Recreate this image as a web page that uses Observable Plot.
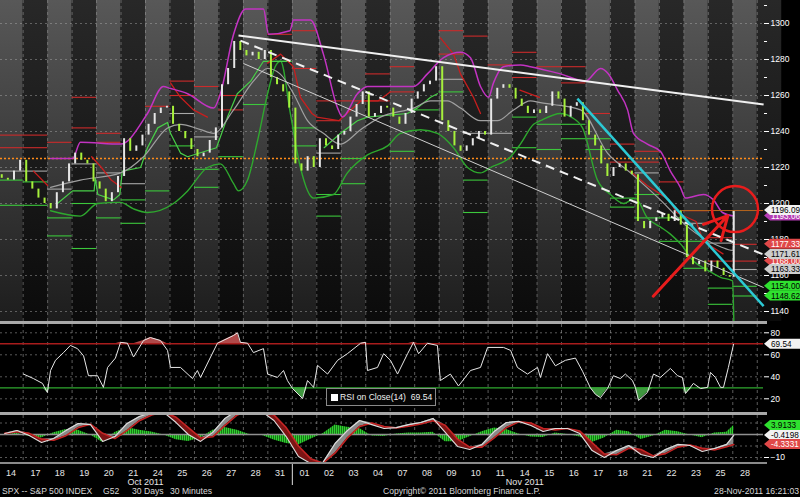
<!DOCTYPE html>
<html><head><meta charset="utf-8">
<script src="https://cdn.jsdelivr.net/npm/d3@7"></script>
<script src="https://cdn.jsdelivr.net/npm/@observablehq/plot@0.6"></script>
<style>
body{margin:0;background:#000;}
#wrap{position:relative;width:800px;height:497px;background:#000;overflow:hidden;font-family:"Liberation Sans",Arial,sans-serif;}
.panel{position:absolute;left:0;}
.sep{position:absolute;left:0;width:767px;background:#a8a8a8;}
.foot{position:absolute;top:486px;font-size:8.6px;color:#d8d8d8;white-space:pre;line-height:11px;}
#legend{position:absolute;left:326px;top:388px;width:108px;height:16px;border:1px solid #8a8a8a;background:#050505;color:#f0f0f0;font-size:8.6px;line-height:16px;white-space:nowrap;}
#legend span.sq{position:absolute;left:4px;top:5px;width:7px;height:7px;background:#fff;}
#legend span.tx{position:absolute;left:13px;top:0;}
</style></head>
<body><div id="wrap">
<div id="main" class="panel" style="top:0"></div>
<div class="sep" style="top:321px;height:3px"></div>
<div id="rsi" class="panel" style="top:324px"></div>
<div class="sep" style="top:412px;height:3px"></div>
<div id="macd" class="panel" style="top:415px"></div>
<div class="sep" style="top:462px;height:2px;background:#8a8a8a"></div>
<div id="xax" class="panel" style="top:464px"></div>
<div id="legend"><span class="sq"></span><span class="tx">RSI on Close(14)&nbsp; 69.54</span></div>
<div class="foot" style="left:2px">SPX -- S&amp;P 500 INDEX</div>
<div class="foot" style="left:103px">G52</div>
<div class="foot" style="left:132px">30 Days</div>
<div class="foot" style="left:170px">30 Minutes</div>
<div class="foot" style="left:383px">Copyright© 2011 Bloomberg Finance L.P.</div>
<div class="foot" style="right:1px">28-Nov-2011 16:21:03</div>
</div>
<script>
// ---------- data (x = trading-day index, fractional) ----------
const dayLabels = ["14","17","18","19","20","21","24","25","26","27","28","31","01","02","03","04","07","08","09","10","11","14","15","16","17","18","21","22","23","25","28"];
const monthLabels = [{t: 6.0, label: "Oct 2011"}, {t: 21.5, label: "Nov 2011"}];
const monthBreaks = [12];
const priceTicks = [1140,1160,1180,1200,1220,1240,1260,1280,1300];
const priceMinorTicks = [1140,1150,1160,1170,1180,1190,1200,1210,1220,1230,1240,1250,1260,1270,1280,1290,1300,1310];
const rsiTicks = [20,40,60,80];

const openPrice = 1216;
const closesByDay = [
 [1214,1213,1218,1224],[1212,1208,1203,1200],[1197,1206,1212,1222],[1228,1224,1222,1212],
 [1208,1201,1206,1215],[1236,1229,1232,1238],[1244,1250,1253,1254],[1244,1240,1236,1230],
 [1226,1228,1235,1242],[1266,1275,1290,1285],[1282,1284,1280,1285],[1270,1266,1262,1253],
 [1222,1218,1226,1220],[1236,1232,1230,1238],[1240,1248,1255,1262],[1248,1250,1254,1253],
 [1248,1244,1250,1258],[1262,1266,1268,1276],[1246,1240,1232,1229],[1232,1236,1240,1238],
 [1258,1264,1266,1264],[1258,1254,1250,1252],[1250,1254,1262,1258],[1248,1254,1256,1246],
 [1238,1232,1222,1215],[1220,1222,1218,1216],[1190,1186,1190,1192],[1194,1190,1196,1188],
 [1170,1166,1168,1162],[1168,1164,1160,1159],[1196.09]
];

// daily pivot levels (one per day)
const pivR2 = [1238,1238,1234,1259,1239,null,1254,1268,1265,1260,null,1294,1296,1257,null,1272,1276,null,1296,1293,1277,1284,1276,1276,null,1233,1229,1212,1196,1181,1177.33];
const pivR1 = [1231,1231,null,1242,1234,null,null,1260,null,1252,null,null,1275,1246,1257,1257,1262,null,1283,null,null,1270,null,1267,1250,1223,1223,null,null,1168,1168];
const pivP  = [1218,1218,1208,1222,1217,1211,null,1250,1237,null,null,null,null,1228,null,null,null,null,1269,1239,1239,null,null,null,null,null,1217,null,1189,1178,1163.33];
const pivS1 = [1213,1212,1192,1200,1192,1202,1207,1232,1219,1226,1255,1279,1242,1205,1225,null,1229,1252,1262,1213,null,1248,1244,1244,1236,1203,1205,1192,1179,1153,1154];
const pivS2 = [1199,1199,1182,1175,null,1189,null,null,1209,null,null,null,1232,1193,1211,null,null,null,null,1195,null,1231,1230,1236,1230,1198,1192,1179,1164,1144,1148.62];

const upperBand = [[2.12,1225],[3.02,1225],[3.34,1234],[4.98,1233],[6.08,1250],[6.73,1265],[7.0,1264],[7.72,1261],[8.78,1253],[9.06,1261],[9.6,1294],[10.09,1308],[10.82,1308],[11.03,1294],[11.9,1296],[12.05,1302],[12.74,1302],[13.27,1283],[13.85,1253],[14.05,1248],[14.66,1261],[15.07,1265],[16.95,1265],[17.52,1272],[17.93,1278],[18.18,1281],[18.87,1284],[19.28,1281],[19.69,1265],[20.02,1259],[20.22,1267],[20.63,1276],[21.32,1277],[21.73,1276],[22.96,1272],[23.98,1268],[24.59,1275],[24.92,1272],[25.29,1263],[25.7,1252],[25.94,1239],[26.51,1233],[27.04,1229],[27.45,1218],[27.86,1209],[28.07,1203],[28.8,1205],[29.21,1202],[29.58,1195],[30.04,1193]];
const lowerBand = [[2.12,1196],[3.34,1193],[4.04,1200],[4.98,1200.6],[5.51,1197],[6.08,1195],[7.14,1200],[7.72,1207],[8.53,1220],[9.06,1222],[9.6,1211],[9.8,1207],[10.17,1213],[10.58,1235],[10.99,1261],[11.3,1276],[11.52,1279],[11.92,1250],[12.33,1220],[12.87,1203],[13.68,1205],[14.25,1217],[15.07,1227],[15.89,1232],[16.42,1239],[17.24,1241],[17.93,1239],[18.59,1231],[19.16,1220],[19.69,1217],[20.1,1220],[20.92,1226],[21.32,1233],[21.86,1244],[22.14,1246],[22.96,1250],[23.4,1248],[23.86,1242],[24.47,1213],[25.0,1205],[25.53,1200],[26.02,1203],[26.51,1192],[27.04,1187],[27.45,1183],[27.9,1177],[28.39,1168],[28.97,1163],[29.5,1159],[29.99,1157],[30.05,1130]];
const midAverage = [[2.12,1209],[3.34,1213],[4.98,1217],[5.92,1226],[6.9,1242],[7.43,1244],[8.25,1241],[8.78,1239],[9.6,1252],[10.41,1268],[10.99,1275],[11.5,1272],[12.05,1261],[12.62,1246],[13.27,1239],[13.97,1233],[14.79,1241],[15.6,1248],[16.95,1253],[17.65,1257],[18.34,1257],[18.87,1253],[19.69,1246],[20.38,1246],[21.04,1252],[21.73,1257],[22.14,1256],[22.68,1255],[23.78,1252],[24.88,1228],[25.82,1217],[27.04,1202],[28.15,1187],[29.5,1176],[29.99,1174],[30.05,1176]];
const redChannel = [[1.42,1218],[2.0,1210],null,[3.8,1226],[4.2,1220],[4.6,1213],[5.0,1209],null,[7.02,1267],[7.43,1259],[7.96,1252],[8.53,1248],null,[10.99,1278],[11.52,1283],[12.05,1276],[12.33,1259],[12.8,1250],[13.0,1248],[13.9,1246],[14.8,1257],[15.5,1257],[16.0,1262],null,[18.05,1292],[18.59,1283],[18.87,1272],[19.4,1259],[19.69,1250],null,[21.3,1263],[22.1,1259],null,[25.8,1218],[26.5,1210],[27.4,1202],[27.7,1195],[28.5,1190],[28.8,1179],[29.6,1172]];
const greenChannel = [[2.4,1200],[3.02,1207],[3.9,1207],[3.95,1214],[4.05,1205],[4.7,1202],[4.95,1205],[5.05,1218],[5.8,1220],[6.08,1231],[6.5,1242],[6.9,1245],[7.02,1239],[7.43,1228],[7.72,1226],[8.9,1231],[9.35,1248],[9.75,1261],[10.3,1268],[10.82,1279],[11.9,1279],null,[13.3,1231],[13.97,1239],[14.66,1246],[15.07,1248],[16.7,1250],[17.1,1253],[17.65,1259],[17.93,1261]];
const refLine = [1225];
const lastPriceLine = [{t1: 27.9, t2: 31.26, v: 1196.09}];

const trendSolid = [{t1: 9.8, p1: 1293.3, t2: 31.26, p2: 1255}];
const trendDashed = [{t1: 9.88, p1: 1290.5, t2: 31.26, p2: 1171.6}];
const trendThin = [{t1: 10.0, p1: 1277.8, t2: 31.26, p2: 1153.3}];
const trendCyan = [{t1: 23.65, p1: 1258.3, t2: 31.26, p2: 1143}];
const arrowNote = [{t1: 26.75, p1: 1148.5, t2: 29.8, p2: 1193.3}];
const circleNote = [{t: 30.09, p: 1196.9}];

const priceTags = [
 {v: 1193.06, bg: "#b43cb4", fg: "#fff"},
 {v: 1196.09, bg: "#f2f2f2", fg: "#000"},
 {v: 1177.33, bg: "#e04848", fg: "#fff"},
 {v: 1168.00, bg: "#e04848", fg: "#fff"},
 {v: 1171.61, bg: "#cdcdcd", fg: "#000"},
 {v: 1163.33, bg: "#cdcdcd", fg: "#000"},
 {v: 1154.00, bg: "#2fe02f", fg: "#000"},
 {v: 1148.62, bg: "#2fe02f", fg: "#000"}
];

const rsiSeries = [[1.01,42.5],[1.42,38.4],[1.79,34],[1.99,25.7],[2.12,45.7],[2.32,55],[2.65,62],[2.93,68.5],[3.22,65.6],[3.47,59],[3.67,41],[4.04,41],[4.28,30.4],[4.45,48.5],[4.77,57],[4.98,71.3],[5.26,70.5],[5.51,58],[5.92,73],[6.2,75.7],[6.61,73],[6.9,64],[7.02,48.5],[7.43,48.5],[7.92,38.4],[8.12,45.7],[8.25,39.4],[8.66,58],[8.94,70.5],[9.6,77.6],[9.76,80],[9.88,71.3],[10.17,70.5],[10.41,62],[10.82,65.6],[10.99,42.5],[11.39,39.4],[11.64,45.7],[11.8,36.6],[12.01,29.3],[12.42,20.2],[12.62,36.6],[12.87,30.4],[13.03,50.4],[13.44,42.5],[13.85,55],[14.25,61],[14.79,70.5],[14.99,71.3],[15.07,45.7],[15.48,48.5],[15.73,61],[16.01,55],[16.3,42.5],[16.71,61],[16.95,71.3],[17.16,61],[17.52,70.5],[17.93,68.5],[18.05,36.6],[18.46,42.5],[18.79,31.6],[19.28,45.7],[19.69,48.5],[19.98,66.7],[20.63,66.7],[20.92,64],[21.2,48.5],[21.61,42.5],[22.02,48.5],[22.14,39.4],[22.43,61],[22.75,50],[23.16,55],[23.57,57],[23.86,45],[24.18,30],[24.39,24],[24.59,21],[24.88,29.3],[25.12,41],[25.41,38.4],[25.61,42.5],[25.9,36.6],[26.02,30.4],[26.15,18.5],[26.51,25.7],[26.76,42.5],[27.04,39.4],[27.45,47.6],[27.74,41],[27.94,39.4],[28.07,24.8],[28.39,34],[28.68,29.3],[28.97,30.4],[29.09,44],[29.29,39.4],[29.5,30.4],[29.62,30.4],[29.82,48.5],[30.03,69.54]];
const rsiLevels = {over: 70, under: 30};

// MACD (two readings per day, last value = current bar)
const macdVals = [0.4,1.7,-0.4,-3.5,-1.7,1.7,4.8,4.3,-3.0,-0.9,4.8,7.8,9.6,9.6,5.2,0,-3.0,0.9,7,10.4,10.4,10,6.1,-0.9,-9.6,-12.6,-12.2,-3.9,1.7,6.1,4.3,2.6,3,4.3,5.2,7,0.9,-5.2,-6.5,-4.3,1.3,5.2,5.7,3.9,1.3,2.6,2.6,0.4,-7,-10,-7,-4.8,-8.7,-10,-6.5,-4.3,-4.8,-7.4,-6.1,-4.3,-0.4198];
const signalVals = [0.5,1.2,0.5,-2.0,-2.5,-0.5,3.0,4.5,0.5,-1.8,1.8,6.0,8.5,9.8,7.5,3.0,-1.5,-1.0,4.0,8.5,10.4,10.3,8.5,3.0,-5.0,-10.5,-12.5,-8.0,-1.5,3.5,5.0,3.5,2.8,3.6,4.6,6.0,4.0,-2.0,-5.5,-5.5,-1.5,3.0,5.5,5.0,2.6,2.0,2.6,1.5,-3.5,-8.5,-8.8,-6.0,-6.5,-9.3,-8.3,-5.5,-4.6,-6.0,-6.7,-5.3,-4.3331];
const macdGrid = [5,-5,-10];

// ---------- layout ----------
const DAYPX = 24.47;
const xDom = [0.074, 0.074 + 763 / DAYPX];
const tPx = px => xDom[0] + px / DAYPX;
const FONT = '"Liberation Sans",Arial,sans-serif';
const baseStyle = {background: "transparent", color: "#fff", fontFamily: FONT, fontSize: "8.5px", overflow: "visible"};
const common = {width: 800, marginLeft: 0, marginRight: 37, marginTop: 0, marginBottom: 0};

const pts = arr => arr.map(d => d ? {t: d[0], v: d[1]} : {t: NaN, v: NaN});

function tagMarks(tags, halfH, fmt) {
  const out = [];
  for (const g of tags) {
    const shape = [{x: tPx(764), a: g.v, b: g.v}, {x: tPx(770), a: g.v - halfH, b: g.v + halfH}, {x: tPx(801), a: g.v - halfH, b: g.v + halfH}];
    out.push(Plot.areaY(shape, {x: "x", y1: "a", y2: "b", fill: g.bg, curve: "linear"}));
    out.push(Plot.text([g], {x: () => tPx(770.5), y: "v", text: d => fmt(d.v), fill: g.fg, textAnchor: "start", fontSize: 8.2}));
  }
  return out;
}

function addDefs(svg, fn) { fn(d3.select(svg).insert("defs", ":first-child")); }

// ---------- main price panel ----------
const bars = [];
{
  let prev = openPrice;
  closesByDay.forEach((day, d) => day.forEach((c, j) => {
    const t = d + (j + 0.5) / (d === closesByDay.length - 1 ? 13 : 4);
    bars.push({t, open: prev, close: c});
    prev = c;
  }));
}
const yTop = 1300 + 23 / 1.8;
const mainH = 321;
const yDom = [yTop - mainH / 1.8, yTop];
const cols = d3.range(32);
const pivotRule = (arr, color, w) => Plot.ruleY(arr.map((v, i) => ({i, v})).filter(d => d.v != null),
  {x1: d => d.i, x2: d => d.i + 1, y: "v", stroke: color, strokeWidth: w});

const mainChart = Plot.plot({
  ...common, height: mainH,
  x: {domain: xDom, axis: null},
  y: {domain: yDom, axis: null},
  style: baseStyle,
  marks: [
    Plot.rect(cols.filter(i => i % 2 === 0), {x1: d => d, x2: d => d + 1, y1: () => yDom[0], y2: () => yDom[1], fill: "url(#gLight)"}),
    Plot.rect(cols.filter(i => i % 2 === 1), {x1: d => d, x2: d => d + 1, y1: () => yDom[0], y2: () => yDom[1], fill: "url(#gDark)"}),
    Plot.ruleX(d3.range(1, 32), {stroke: "#a0a0a0", strokeOpacity: 0.5, strokeDasharray: "3,3"}),
    Plot.ruleY(priceTicks, {stroke: "#b0b0b0", strokeOpacity: 0.45, strokeDasharray: "2,3"}),
    Plot.ruleY(refLine, {stroke: "#ff8c1a", strokeWidth: 1.5, strokeDasharray: "2,2"}),
    pivotRule(pivR2, "#cc2b2b", 1.1),
    pivotRule(pivR1, "#cc2b2b", 1.1),
    pivotRule(pivP, "#a8a8a8", 1.1),
    pivotRule(pivS1, "#3cc83c", 1.1),
    pivotRule(pivS2, "#3cc83c", 1.1),
    Plot.line(pts(lowerBand), {x: "t", y: "v", stroke: "#2ea82e", strokeWidth: 1.4, curve: "monotone-x", clip: true}),
    Plot.line(pts(greenChannel), {x: "t", y: "v", stroke: "#48d048", strokeWidth: 1.2, clip: true}),
    Plot.line(pts(redChannel), {x: "t", y: "v", stroke: "#c81e1e", strokeWidth: 1.3, clip: true}),
    Plot.line(pts(midAverage), {x: "t", y: "v", stroke: "#a0a0a0", strokeWidth: 1.2, curve: "monotone-x"}),
    Plot.line(pts(upperBand), {x: "t", y: "v", stroke: "#c233c2", strokeWidth: 1.5, curve: "monotone-x", clip: true}),
    Plot.ruleX(bars, {filter: d => d.close >= d.open, x: "t", y1: "open", y2: "close", stroke: "#e6e6e6", strokeWidth: 2}),
    Plot.ruleX(bars, {filter: d => d.close < d.open, x: "t", y1: "open", y2: "close", stroke: "#a6f03c", strokeWidth: 2}),
    Plot.ruleY(lastPriceLine, {x1: "t1", x2: "t2", y: "v", stroke: "#b5651d", strokeWidth: 1}),
    Plot.link(trendThin, {x1: "t1", y1: "p1", x2: "t2", y2: "p2", stroke: "#cfcfcf", strokeWidth: 1}),
    Plot.link(trendSolid, {x1: "t1", y1: "p1", x2: "t2", y2: "p2", stroke: "#f0f0f0", strokeWidth: 2}),
    Plot.link(trendDashed, {x1: "t1", y1: "p1", x2: "t2", y2: "p2", stroke: "#f0f0f0", strokeWidth: 2, strokeDasharray: "9,6"}),
    Plot.link(trendCyan, {x1: "t1", y1: "p1", x2: "t2", y2: "p2", stroke: "#2cc9d4", strokeWidth: 2.5}),
    Plot.arrow(arrowNote, {x1: "t1", y1: "p1", x2: "t2", y2: "p2", stroke: "#e81c1c", strokeWidth: 3, headLength: 13, headAngle: 55}),
    Plot.dot(circleNote, {x: "t", y: "p", r: 23, stroke: "#e81c1c", strokeWidth: 2.5, fill: "none"}),
    Plot.axisY({anchor: "right", ticks: priceMinorTicks, tickSize: 3, text: null, label: null}),
    Plot.axisY({anchor: "right", ticks: priceTicks, tickSize: 5, tickPadding: 2, tickFormat: d => String(d), label: null, fontSize: 8.5}),
    ...tagMarks(priceTags, 5 / 1.8, v => v.toFixed(2))
  ]
});
addDefs(mainChart, defs => {
  const grad = (id, c0, c1) => {
    const g = defs.append("linearGradient").attr("id", id).attr("x1", 0).attr("y1", 0).attr("x2", 0).attr("y2", 1);
    g.append("stop").attr("offset", 0).attr("stop-color", c0);
    g.append("stop").attr("offset", 1).attr("stop-color", c1);
  };
  grad("gLight", "#585858", "#1d1d1d");
  grad("gDark", "#282828", "#0b0b0b");
});
document.getElementById("main").append(mainChart);

// ---------- RSI panel ----------
const rsiH = 88;
const rsiTop = 80 + 8.3 / 1.1;
const rsiDom = [rsiTop - rsiH / 1.1, rsiTop];
const rsi = pts(rsiSeries);
const rsiChart = Plot.plot({
  ...common, height: rsiH,
  x: {domain: xDom, axis: null},
  y: {domain: rsiDom, axis: null},
  style: baseStyle,
  marks: [
    Plot.ruleX(d3.range(1, 32), {stroke: "#9a9a9a", strokeOpacity: 0.6, strokeDasharray: "3,3"}),
    Plot.ruleY(rsiTicks, {stroke: "#b0b0b0", strokeOpacity: 0.5, strokeDasharray: "2,3"}),
    Plot.areaY(rsi, {x: "t", y1: rsiLevels.over, y2: d => Math.max(rsiLevels.over, d.v), fill: "#b04a4a"}),
    Plot.areaY(rsi, {x: "t", y1: rsiLevels.under, y2: d => Math.min(rsiLevels.under, d.v), fill: "#3f963f"}),
    Plot.ruleY([rsiLevels.over], {stroke: "#a81c1c", strokeWidth: 1.6}),
    Plot.ruleY([rsiLevels.under], {stroke: "#2fa82f", strokeWidth: 1.3}),
    Plot.line(rsi, {x: "t", y: "v", stroke: "#e8e8e8", strokeWidth: 1}),
    Plot.axisY({anchor: "right", ticks: rsiTicks, tickSize: 5, tickPadding: 2, label: null, fontSize: 8.5}),
    ...tagMarks([{v: rsiSeries[rsiSeries.length - 1][1], bg: "#f2f2f2", fg: "#000"}], 5 / 1.1, v => v.toFixed(2))
  ]
});
document.getElementById("rsi").append(rsiChart);

// ---------- MACD panel ----------
const macdH = 47;
const macdTop = 19 / 2.3;
const macdDom = [macdTop - macdH / 2.3, macdTop];
const macd = macdVals.map((m, k) => ({t: k < macdVals.length - 1 ? k * 0.5 + 0.25 : 30.04, m, s: signalVals[k]}));
const lastM = macd[macd.length - 1];
const macdTags = [
  {v: lastM.m - lastM.s, bg: "#2fe02f", fg: "#000"},
  {v: lastM.m, bg: "#f2f2f2", fg: "#000"},
  {v: lastM.s, bg: "#e04848", fg: "#fff"}
];
const macdChart = Plot.plot({
  ...common, height: macdH,
  x: {domain: xDom, axis: null},
  y: {domain: macdDom, axis: null},
  style: baseStyle,
  marks: [
    Plot.ruleX(d3.range(1, 32), {stroke: "#9a9a9a", strokeOpacity: 0.6, strokeDasharray: "3,3"}),
    Plot.ruleY(macdGrid, {stroke: "#b0b0b0", strokeOpacity: 0.5, strokeDasharray: "2,3"}),
    Plot.areaY(macd, {x: "t", y1: 0, y2: d => d.m - d.s, fill: "url(#hStripe)", clip: true}),
    Plot.ruleY([0], {stroke: "#909090", strokeWidth: 1.5}),
    Plot.areaY(macd, {x: "t", y1: "s", y2: d => Math.max(d.m, d.s), fill: "#8a8a8a", clip: true}),
    Plot.areaY(macd, {x: "t", y1: "s", y2: d => Math.min(d.m, d.s), fill: "#7c1414", clip: true}),
    Plot.line(macd, {x: "t", y: "s", stroke: "#c42424", strokeWidth: 1.6, clip: true}),
    Plot.line(macd, {x: "t", y: "m", stroke: "#dedede", strokeWidth: 1.1, clip: true}),
    Plot.axisY({anchor: "right", ticks: [-10], tickSize: 5, tickPadding: 2, label: null, fontSize: 8.5}),
    ...tagMarks(macdTags, 2.2, v => v.toFixed(4))
  ]
});
addDefs(macdChart, defs => {
  const p = defs.append("pattern").attr("id", "hStripe").attr("patternUnits", "userSpaceOnUse").attr("width", 2).attr("height", 4);
  p.append("rect").attr("width", 2).attr("height", 4).attr("fill", "#0d4f0d");
  p.append("rect").attr("width", 1.3).attr("height", 4).attr("fill", "#2fd02f");
});
document.getElementById("macd").append(macdChart);

// ---------- date axis ----------
const xChart = Plot.plot({
  ...common, height: 33,
  x: {domain: xDom, axis: null},
  style: baseStyle,
  marks: [
    Plot.ruleX(monthBreaks, {stroke: "#e0e0e0", strokeWidth: 1, insetBottom: 12}),
    Plot.text(dayLabels, {x: (d, i) => i + 0.5, text: d => d, frameAnchor: "top", dy: 5, fill: "#e6e6e6", fontSize: 9}),
    Plot.text(monthLabels, {x: "t", text: "label", frameAnchor: "top", dy: 14, fill: "#e6e6e6", fontSize: 9})
  ]
});
document.getElementById("xax").append(xChart);
</script>
</body></html>
